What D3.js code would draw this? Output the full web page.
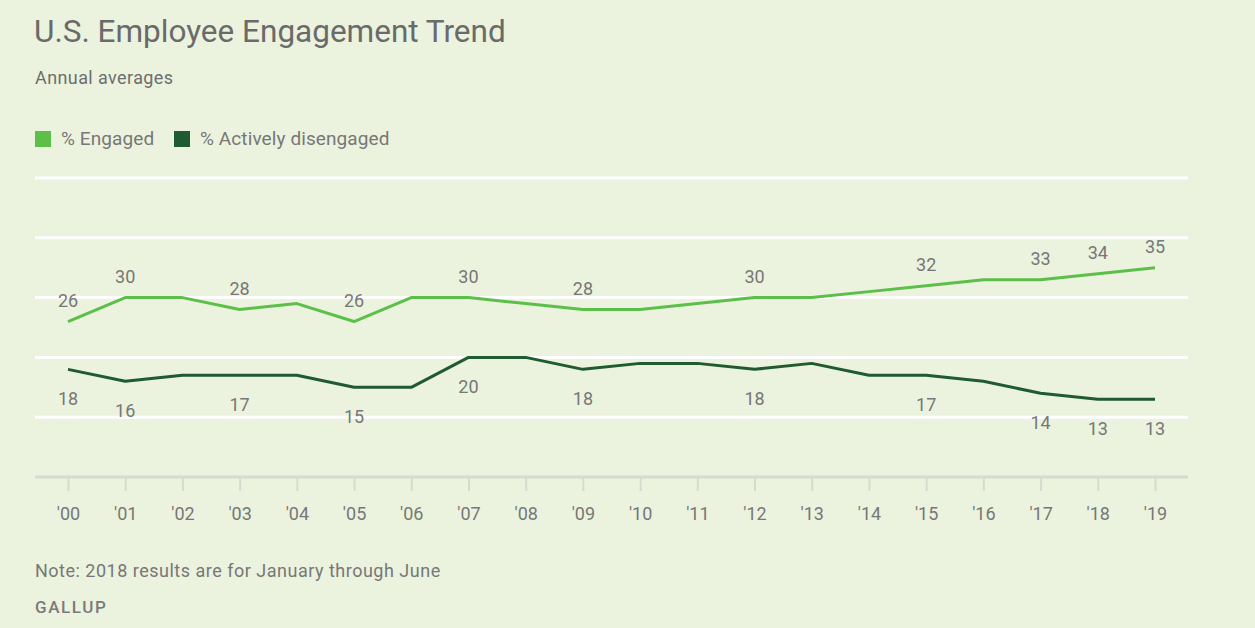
<!DOCTYPE html>
<html>
<head>
<meta charset="utf-8">
<script src="https://cdn.jsdelivr.net/npm/d3@7"></script>
<style>
  body { margin: 0; background: #ebf3de; }
  svg { display: block; font-family: Roboto, "Open Sans", sans-serif; }
</style>
</head>
<body>
<svg id="chart" width="1255" height="628"></svg>
<script>
"use strict";

var years = ["'00", "'01", "'02", "'03", "'04", "'05", "'06", "'07", "'08", "'09",
             "'10", "'11", "'12", "'13", "'14", "'15", "'16", "'17", "'18", "'19"];
var engaged = [26, 30, 30, 28, 29, 26, 30, 30, 29, 28, 28, 29, 30, 30, 31, 32, 33, 33, 34, 35];
var disengaged = [18, 16, 17, 17, 17, 15, 15, 20, 20, 18, 19, 19, 18, 19, 17, 17, 16, 14, 13, 13];
// years whose values get a label
var labelled = ["'00", "'01", "'03", "'05", "'07", "'09", "'12", "'15", "'17", "'18", "'19"];
var gridValues = [0, 10, 20, 30, 40, 50];

var lightGreen = "#5cbf4a",
    darkGreen = "#1f5a30",
    textGrey = "#777",
    bg = "#ebf3de";

var svg = d3.select("#chart");

svg.append("rect").attr("width", 1255).attr("height", 628).attr("fill", bg);

var x = d3.scalePoint().domain(years).range([68, 1155]),
    y = d3.scaleLinear().domain([0, 50]).range([477, 178]);

// titles
svg.append("text").attr("x", 34).attr("y", 42)
    .attr("font-size", 31.5).attr("fill", "#6a6a6a").text("U.S. Employee Engagement Trend");
svg.append("text").attr("x", 35).attr("y", 84)
    .attr("font-size", 18).attr("letter-spacing", 0.4).attr("fill", "#6e6e6e")
    .text("Annual averages");

// legend
var legend = [["% Engaged", lightGreen, 35], ["% Actively disengaged", darkGreen, 174]];
legend.forEach(function (d) {
    svg.append("rect").attr("x", d[2]).attr("y", 131).attr("width", 16).attr("height", 16)
        .attr("fill", d[1]);
    svg.append("text").attr("x", d[2] + 26).attr("y", 145)
        .attr("font-size", 19).attr("letter-spacing", 0.1).attr("fill", textGrey).text(d[0]);
});

// gridlines
svg.selectAll("line.grid")
    .data(gridValues.filter(function (v) { return v > 0; }))
    .enter().append("line")
    .attr("class", "grid")
    .attr("x1", 35).attr("x2", 1188)
    .attr("y1", function (d) { return y(d); })
    .attr("y2", function (d) { return y(d); })
    .attr("stroke", "#fff").attr("stroke-width", 3);

// x axis
var xAxis = svg.append("g")
    .attr("transform", "translate(0," + y(0) + ")")
    .call(d3.axisBottom(x).tickSize(14).tickPadding(16));
xAxis.select(".domain").remove();
xAxis.selectAll(".tick line").attr("stroke", "#d6dbd0").attr("stroke-width", 2);
xAxis.selectAll(".tick text").attr("font-size", 18).attr("fill", textGrey)
    .attr("font-family", "Roboto, sans-serif");
xAxis.insert("line", ":first-child")
    .attr("x1", 35).attr("x2", 1188).attr("y1", 0).attr("y2", 0)
    .attr("stroke", "#d6dbd0").attr("stroke-width", 3);

// lines
var line = d3.line()
    .x(function (d, i) { return x(years[i]); })
    .y(function (d) { return y(d); });

svg.append("path").datum(engaged)
    .attr("fill", "none").attr("stroke", lightGreen).attr("stroke-width", 3)
    .attr("stroke-linejoin", "round").attr("d", line);
svg.append("path").datum(disengaged)
    .attr("fill", "none").attr("stroke", darkGreen).attr("stroke-width", 3)
    .attr("stroke-linejoin", "round").attr("d", line);

// value labels
var idx = labelled.map(function (l) { return years.indexOf(l); });
svg.selectAll("text.eng").data(idx).enter().append("text")
    .attr("class", "eng")
    .attr("x", function (i) { return x(years[i]); })
    .attr("y", function (i) { return y(engaged[i]) - 15; })
    .attr("text-anchor", "middle").attr("font-size", 18).attr("fill", textGrey)
    .text(function (i) { return engaged[i]; });
svg.selectAll("text.dis").data(idx).enter().append("text")
    .attr("class", "dis")
    .attr("x", function (i) { return x(years[i]); })
    .attr("y", function (i) { return y(disengaged[i]) + 36; })
    .attr("text-anchor", "middle").attr("font-size", 18).attr("fill", textGrey)
    .text(function (i) { return disengaged[i]; });

// footer
svg.append("text").attr("x", 35).attr("y", 577)
    .attr("font-size", 18).attr("letter-spacing", 0.5).attr("fill", textGrey)
    .text("Note: 2018 results are for January through June");
svg.append("text").attr("x", 35).attr("y", 613)
    .attr("font-size", 17).attr("font-weight", 500).attr("letter-spacing", 1.6)
    .attr("fill", "#7a7a7a").text("GALLUP");
</script>
</body>
</html>
